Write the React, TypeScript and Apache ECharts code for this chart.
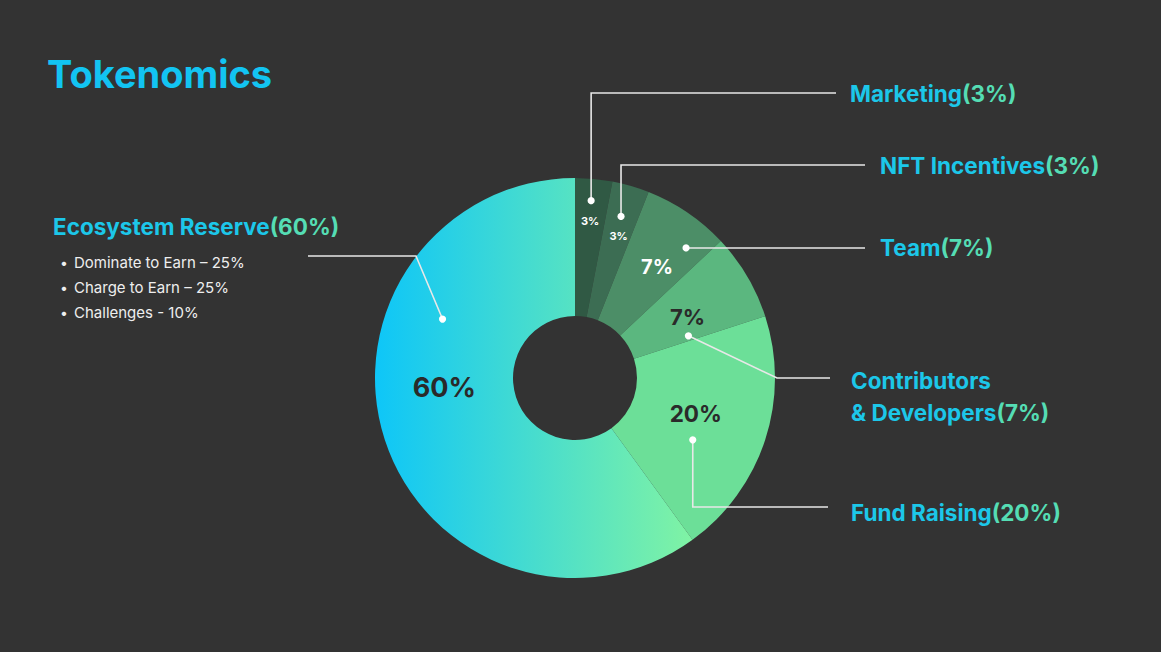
import React, { useEffect, useRef } from "react";
import * as echarts from "echarts";

const categories = ["Marketing", "NFT Incentives", "Team", "Contributors & Developers", "Fund Raising", "Ecosystem Reserve"];
const values = [3, 3, 7, 7, 20, 60];
const legendNames: string[][] = [
  ["Marketing"],
  ["NFT Incentives"],
  ["Team"],
  ["Contributors", "& Developers"],
  ["Fund Raising"],
  ["Ecosystem Reserve"],
];
const ecosystemBreakdown = ["Dominate to Earn – 25%", "Charge to Earn – 25%", "Challenges - 10%"];
const titleText = "Tokenomics";

// layout (not data)
const CX = 575;
const CY = 378;
const R0 = 62;
const R1 = 200;
const labelPolar = [[158, 5.5], [149, 17], [138, 36.5], [128, 61.6], [126, 106.6], [131, 266]];
const dotPolar = [[178, 5.2], [168, 15.9], [171, 40.5], [121, 69.6], [133, 117.7], [145, 294]];
const labelColors = ["#ffffff", "#ffffff", "#ffffff", "#2a2a2a", "#2a2a2a", "#2a2a2a"];
const labelSizes = [11, 11, 20, 22, 22.5, 27];

function polar(r: number, deg: number): number[] {
  const a = (deg * Math.PI) / 180;
  return [CX + r * Math.sin(a), CY - r * Math.cos(a)];
}

export default function App() {
  const ref = useRef<HTMLDivElement>(null);
  useEffect(() => {
    if (!ref.current) return;
    const chart = echarts.init(ref.current, null, { renderer: "svg" });
    const font = "Inter, 'Noto Sans', sans-serif";
    const sliceColors: any[] = [
      "#305944",
      "#3c6d53",
      "#4c8e67",
      "#5bb77f",
      "#6cdf98",
      new echarts.graphic.LinearGradient(0, 0, 1, 0, [
        { offset: 0, color: "#0ec6f8" },
        { offset: 1, color: "#80f3a4" },
      ]),
    ];

    const dots = dotPolar.map(([r, d]) => polar(r, d));
    const lineColor = "#e8e8e8";
    const leaderPoints: number[][][] = [
      [dots[0], [dots[0][0], 93], [836, 93]],
      [dots[1], [dots[1][0], 165], [865, 165]],
      [dots[2], [865, dots[2][1]]],
      [dots[3], [777, 378], [830, 378]],
      [dots[4], [dots[4][0], 507], [828, 507]],
      [dots[5], [416, 256], [308, 256]],
    ];
    const legendPos = [
      [850, 93],
      [880, 165],
      [880, 247],
      [851, 380],
      [851, 512],
      [53, 226],
    ];

    const graphics: any[] = [];
    leaderPoints.forEach((pts) => {
      graphics.push({
        type: "polyline",
        shape: { points: pts },
        style: { stroke: lineColor, lineWidth: 1.6, fill: null },
        z: 10,
      });
    });
    dots.forEach((p) => {
      graphics.push({
        type: "circle",
        shape: { cx: p[0], cy: p[1], r: 3.6 },
        style: { fill: "#ffffff" },
        z: 11,
      });
    });
    const legendFont = { fontFamily: font, fontWeight: 700, fontSize: 22.5 } as any;
    legendNames.forEach((lines, i) => {
      lines.forEach((t, j) => {
        const isLast = j === lines.length - 1;
        const text = isLast ? `{n|${t}}{p|(${values[i]}%)}` : `{n|${t}}`;
        graphics.push({
          type: "text",
          x: legendPos[i][0],
          y: legendPos[i][1] + j * 32,
          style: {
            text,
            rich: {
              n: { ...legendFont, fill: "#1cc7e9", color: "#1cc7e9" },
              p: { ...legendFont, fill: "#55ddb4", color: "#55ddb4" },
            },
            ...legendFont,
            fill: "#1cc7e9",
            textAlign: "left",
            textVerticalAlign: "middle",
          },
          z: 12,
        });
      });
    });
    ecosystemBreakdown.forEach((t, i) => {
      const y = 262 + i * 25;
      graphics.push({
        type: "text",
        x: 60,
        y,
        style: { text: "•", fill: "#eeeeee", font: `400 14px ${font}`, textVerticalAlign: "middle" },
      });
      graphics.push({
        type: "text",
        x: 74,
        y,
        style: { text: t, fill: "#eeeeee", font: `400 15px ${font}`, textVerticalAlign: "middle" },
      });
    });

    chart.setOption({
      animation: false,
      backgroundColor: "#333333",
      title: {
        text: titleText,
        left: 42,
        top: 50,
        textStyle: { color: "#12c4f2", fontSize: 38, fontWeight: 700, fontFamily: font },
      },
      series: [
        {
          type: "pie",
          center: [CX, CY],
          radius: [R0, R1],
          startAngle: 90,
          clockwise: true,
          silent: true,
          avoidLabelOverlap: false,
          emphasis: { disabled: true },
          labelLine: { show: false },
          itemStyle: { borderWidth: 0 },
          label: {
            show: true,
            position: "inside",
            formatter: "{c}%",
            fontFamily: font,
            fontWeight: 700,
          },
          labelLayout: (params: any) => {
            const [r, d] = labelPolar[params.dataIndex];
            const p = polar(r, d);
            return { x: p[0], y: p[1], align: "center", verticalAlign: "middle" };
          },
          data: categories.map((name, i) => ({
            name,
            value: values[i],
            itemStyle: { color: sliceColors[i] },
            label: { color: labelColors[i], fontSize: labelSizes[i] },
          })),
        },
      ],
      graphic: graphics,
    });
    return () => chart.dispose();
  }, []);
  return <div ref={ref} style={{ position: "fixed", left: 0, top: 0, width: 1161, height: 652 }} />;
}
